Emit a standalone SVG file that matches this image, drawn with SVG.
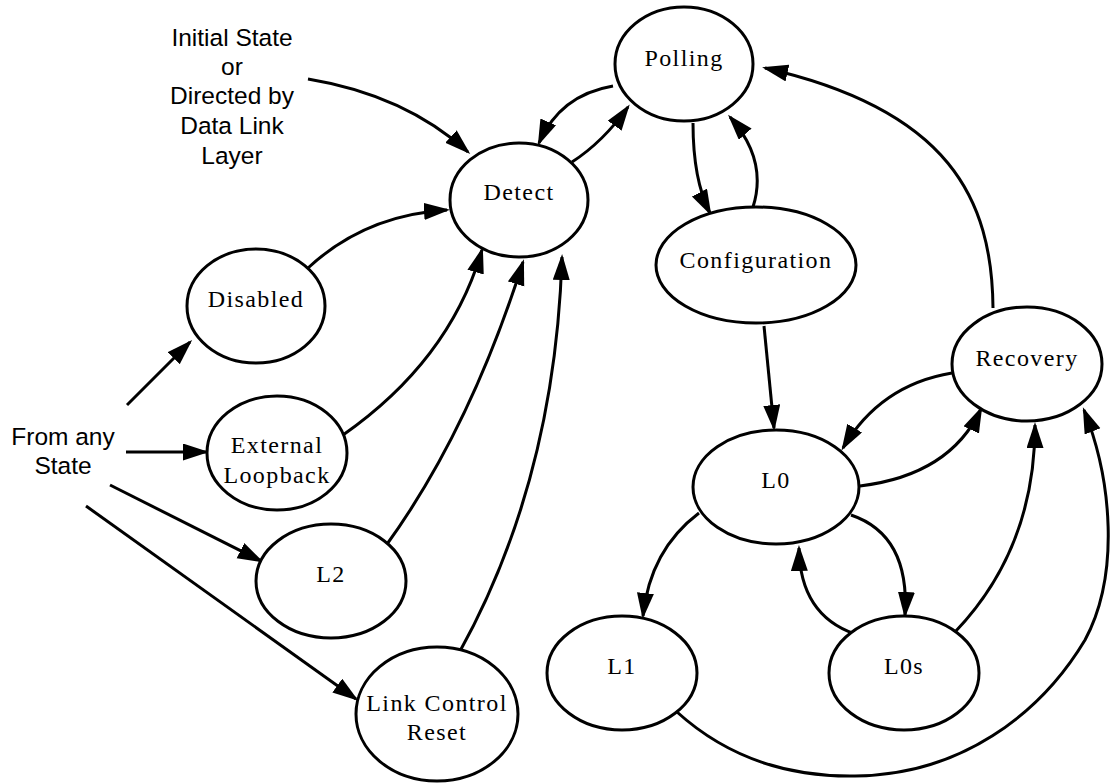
<svg xmlns="http://www.w3.org/2000/svg" width="1112" height="783" viewBox="0 0 1112 783">
  <style>
    .state { fill: #ffffff; stroke: #000000; stroke-width: 3; }
    .lbl { font-family: "Liberation Serif", "Times New Roman", serif; font-size: 24px; letter-spacing: 1.4px; fill: #000000; text-anchor: middle; }
    .note { font-family: "Liberation Sans", Arial, sans-serif; font-size: 24.5px; fill: #000000; text-anchor: middle; }
    .edge { fill: none; stroke: #000000; stroke-width: 3; marker-end: url(#arrow); }
  </style>
  <defs>
    <marker id="arrow" markerUnits="userSpaceOnUse" markerWidth="28" markerHeight="18" refX="23" refY="8.5" orient="auto">
      <path d="M0,0 L26,8.5 L0,17 z" fill="#000000"/>
    </marker>
  </defs>

  <rect width="1112" height="783" fill="#ffffff"/>

  <!-- free-standing annotations -->
  <g id="note-initial">
    <text class="note" x="232" y="46">Initial State</text>
    <text class="note" x="232" y="75">or</text>
    <text class="note" x="232" y="104">Directed by</text>
    <text class="note" x="232" y="134">Data Link</text>
    <text class="note" x="232" y="164">Layer</text>
  </g>
  <g id="note-any">
    <text class="note" x="63" y="445">From any</text>
    <text class="note" x="63" y="474">State</text>
  </g>

  <!-- transitions -->
  <g id="connectors">
    <path class="edge" d="M308,79 Q405,95 468,152"/>
    <path class="edge" d="M572,162 Q603,142 628,107"/>
    <path class="edge" d="M613,86 Q560,95 539,143"/>
    <path class="edge" d="M693,123 Q693,180 710,213"/>
    <path class="edge" d="M753,207 Q768,160 730,117"/>
    <path class="edge" d="M993,308 C992,200 950,110 765,68"/>
    <path class="edge" d="M764,326 L774,428"/>
    <path class="edge" d="M952,373 Q880,385 843,448"/>
    <path class="edge" d="M860,486 Q950,475 981,409"/>
    <path class="edge" d="M699,513 Q650,550 643,616"/>
    <path class="edge" d="M851,515 Q910,535 905,615"/>
    <path class="edge" d="M855,634 Q800,615 799,548"/>
    <path class="edge" d="M955,632 C1000,585 1035,520 1035,425"/>
    <path class="edge" d="M677,712 C730,760 790,777 855,776 C960,775 1040,715 1085,640 C1120,575 1112,480 1084,410"/>
    <path class="edge" d="M308,268 Q365,215 447,210"/>
    <path class="edge" d="M343,435 Q450,360 482,250"/>
    <path class="edge" d="M385,547 Q470,430 523,262"/>
    <path class="edge" d="M459,653 Q555,480 562,257"/>
    <path class="edge" d="M127,405 L190,342"/>
    <path class="edge" d="M126,452 L206,452"/>
    <path class="edge" d="M110,485 L261,561"/>
    <path class="edge" d="M86,506 L356,699"/>
  </g>

  <!-- states -->
  <g id="polling">
    <ellipse class="state" cx="684" cy="64" rx="69" ry="57"/>
    <text class="lbl" x="684" y="66">Polling</text>
  </g>
  <g id="detect">
    <ellipse class="state" cx="519" cy="200" rx="69" ry="57"/>
    <text class="lbl" x="519" y="200">Detect</text>
  </g>
  <g id="disabled">
    <ellipse class="state" cx="256" cy="306" rx="69" ry="57"/>
    <text class="lbl" x="256" y="307">Disabled</text>
  </g>
  <g id="external-loopback">
    <ellipse class="state" cx="277" cy="453" rx="70" ry="57"/>
    <text class="lbl" x="277" y="453">External</text>
    <text class="lbl" x="277" y="483">Loopback</text>
  </g>
  <g id="l2">
    <ellipse class="state" cx="331" cy="581" rx="75" ry="57"/>
    <text class="lbl" x="331" y="582">L2</text>
  </g>
  <g id="link-control-reset">
    <ellipse class="state" cx="437" cy="714" rx="81" ry="67"/>
    <text class="lbl" x="437" y="711">Link Control</text>
    <text class="lbl" x="437" y="740">Reset</text>
  </g>
  <g id="configuration">
    <ellipse class="state" cx="756" cy="265" rx="100" ry="58"/>
    <text class="lbl" x="756" y="268">Configuration</text>
  </g>
  <g id="recovery">
    <ellipse class="state" cx="1027" cy="364" rx="75" ry="57"/>
    <text class="lbl" x="1027" y="366">Recovery</text>
  </g>
  <g id="l0">
    <ellipse class="state" cx="776" cy="487" rx="83" ry="57"/>
    <text class="lbl" x="776" y="488">L0</text>
  </g>
  <g id="l1">
    <ellipse class="state" cx="622" cy="673" rx="75" ry="57"/>
    <text class="lbl" x="622" y="674">L1</text>
  </g>
  <g id="l0s">
    <ellipse class="state" cx="904" cy="673" rx="75" ry="57"/>
    <text class="lbl" x="904" y="674">L0s</text>
  </g>
</svg>
